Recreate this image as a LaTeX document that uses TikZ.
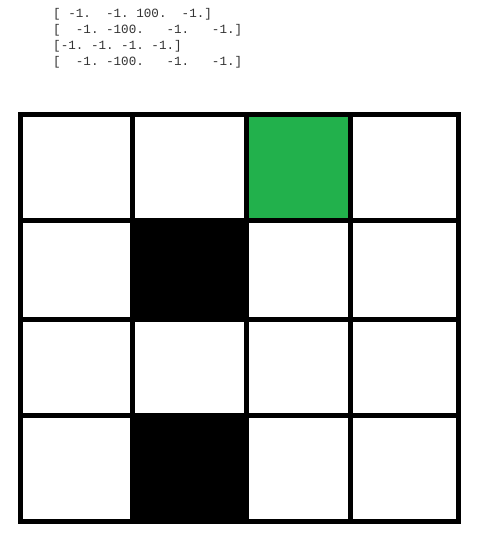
\documentclass[tikz,border=0pt]{standalone}
\usepackage{fontspec}
\newfontfamily\arrayfont{Liberation Mono}
\usepackage{xcolor}
\definecolor{goalgreen}{HTML}{22B14C}

\begin{document}
\begin{tikzpicture}[
    x=1pt, y=-1pt,
    arraytext/.style={font=\arrayfont\fontsize{12.6}{15}\selectfont, text=black!80, anchor=base west, inner sep=0pt},
    gridline/.style={line width=5pt, line cap=rect, draw=black},
    wall/.style={fill=black},
    goal/.style={fill=goalgreen}
]
    \useasboundingbox[fill=white] (0,0) rectangle (493,547);

    % reward array printout
    \node[arraytext] (row1) at (53,17) {[~-1.~~-1.~100.~~-1.]};
    \node[arraytext] (row2) at (53,33) {[~~-1.~-100.~~~-1.~~~-1.]};
    \node[arraytext] (row3) at (53,49) {[-1.~-1.~-1.~-1.]};
    \node[arraytext] (row4) at (53,65) {[~~-1.~-100.~~~-1.~~~-1.]};

    % cells
    \fill[goal] (246.5,114) rectangle (350,220.5);
    \fill[wall] (132.5,220.5) rectangle (246.5,319);
    \fill[wall] (132.5,415) rectangle (246.5,521.5);

    % grid lines
    \foreach \gx in {20.5,132.5,246.5,350,458.5}
        \draw[gridline] (\gx,114) -- (\gx,521.5);
    \foreach \gy in {114,220.5,319,415,521.5}
        \draw[gridline] (20.5,\gy) -- (458.5,\gy);
\end{tikzpicture}
\end{document}
